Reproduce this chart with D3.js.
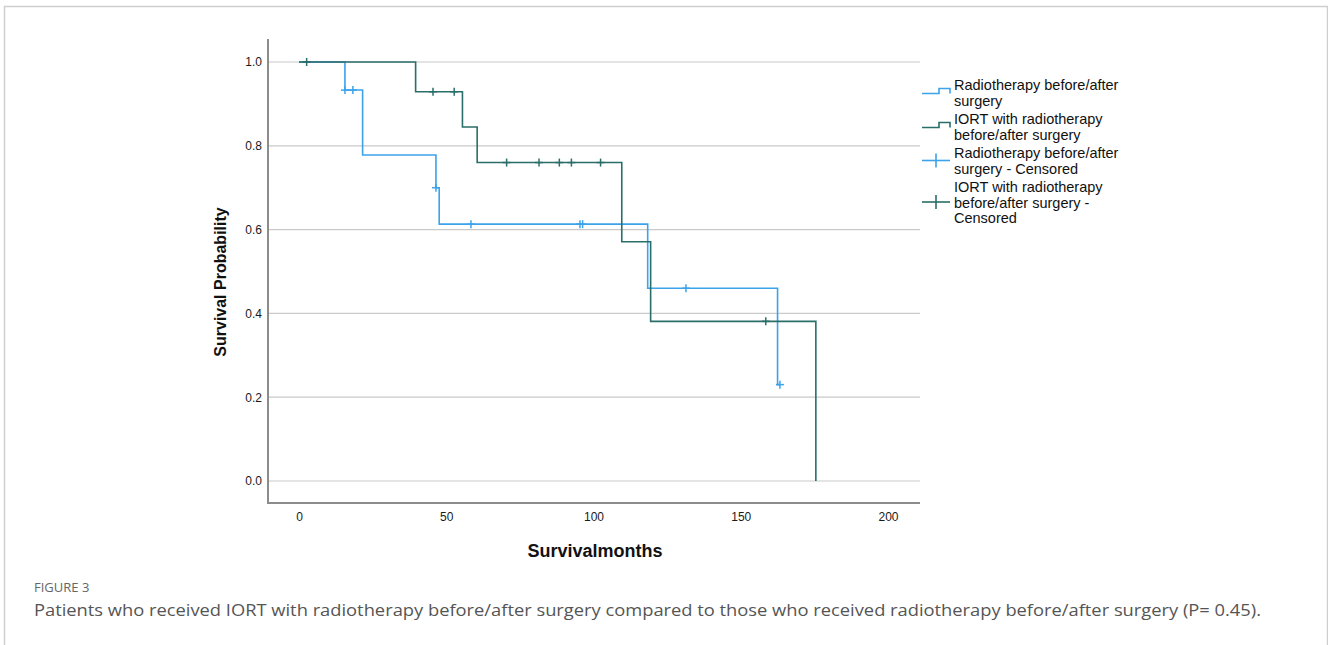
<!DOCTYPE html>
<html lang="en">
<head>
<meta charset="utf-8">
<title>Figure 3</title>
<script src="https://cdn.jsdelivr.net/npm/d3@7"></script>
<style>
  body { margin: 0; background: #fff; }
  svg text { font-family: "Liberation Sans", Arial, sans-serif; }
  svg text.caption { font-family: "Open Sans", sans-serif; }
</style>
</head>
<body>
<svg id="chart" width="1328" height="645"></svg>
<script>
// Kaplan-Meier steps
var rtTimes = [0, 15.6, 21.6, 46.5, 47.6, 118.4, 162.5, 163.3];
var rtSurv  = [1, 0.933, 0.778, 0.70, 0.613, 0.46, 0.23, 0.23];
var rtCensored = [15.6, 18.3, 46.5, 58.4, 95.4, 96.3, 131.4, 163.3];

var iortTimes = [0, 39.6, 55.5, 60.5, 109.6, 119.4, 175.5];
var iortSurv  = [1, 0.929, 0.845, 0.76, 0.571, 0.381, 0];
var iortCensored = [2.6, 45.5, 52.7, 70.5, 81.5, 88.4, 92.5, 102.4, 158.5];

var xTicks = [0, 50, 100, 150, 200];
var yTicks = [0, 0.2, 0.4, 0.6, 0.8, 1.0];

var legendItems = [
  { lines: ["Radiotherapy before/after", "surgery"], kind: "step", color: "#3ca3ea" },
  { lines: ["IORT with radiotherapy", "before/after surgery"], kind: "step", color: "#2a6e6a" },
  { lines: ["Radiotherapy before/after", "surgery - Censored"], kind: "cross", color: "#3ca3ea" },
  { lines: ["IORT with radiotherapy", "before/after surgery -", "Censored"], kind: "cross", color: "#2a6e6a" }
];

var svg = d3.select("#chart");

// outer frame
svg.append("rect")
  .attr("x", 4.5).attr("y", 6.5)
  .attr("width", 1323).attr("height", 660)
  .attr("fill", "none").attr("stroke", "#cfcfcf").attr("stroke-width", 1.5);

var x = d3.scaleLinear().domain([0, 200]).range([299, 888]);
var y = d3.scaleLinear().domain([0, 1]).range([481, 62]);

var plotL = 268, plotR = 920, plotT = 39, plotB = 503;

// grid lines
svg.append("g").selectAll("line")
  .data(yTicks).enter().append("line")
    .attr("x1", plotL).attr("x2", plotR)
    .attr("y1", function(d) { return y(d); })
    .attr("y2", function(d) { return y(d); })
    .attr("stroke", "#c9c9c9").attr("stroke-width", 1.2);

// axes
var yAxis = d3.axisLeft(y).tickValues(yTicks).tickFormat(d3.format(".1f")).tickSize(0).tickPadding(6);
var gy = svg.append("g").attr("transform", "translate(" + plotL + ",0)").call(yAxis);
gy.select(".domain").remove();
gy.selectAll("text").attr("font-size", 12).attr("fill", "#1a1a1a");

var xAxis = d3.axisBottom(x).tickValues(xTicks).tickSize(0).tickPadding(9);
var gx = svg.append("g").attr("transform", "translate(0," + plotB + ")").call(xAxis);
gx.select(".domain").remove();
gx.selectAll("text").attr("font-size", 12).attr("fill", "#1a1a1a");

svg.append("line").attr("x1", plotL).attr("x2", plotL).attr("y1", plotT).attr("y2", plotB + 1)
  .attr("stroke", "#8c8c8c").attr("stroke-width", 2);
svg.append("line").attr("x1", plotL).attr("x2", plotR).attr("y1", plotB).attr("y2", plotB)
  .attr("stroke", "#8c8c8c").attr("stroke-width", 2);

// axis titles
svg.append("text").attr("x", 595).attr("y", 557).attr("text-anchor", "middle")
  .attr("font-size", 18).attr("font-weight", "bold").attr("fill", "#111")
  .text("Survivalmonths");
svg.append("text").attr("transform", "translate(226,282) rotate(-90)").attr("text-anchor", "middle")
  .attr("font-size", 16).attr("font-weight", "bold").attr("fill", "#111")
  .text("Survival Probability");

// step curves
var line = d3.line()
  .x(function(d) { return x(d[0]); })
  .y(function(d) { return y(d[1]); })
  .curve(d3.curveStepAfter);

function drawSeries(times, surv, cens, color) {
  var pts = d3.zip(times, surv);
  svg.append("path").datum(pts)
    .attr("d", line).attr("fill", "none")
    .attr("stroke", color).attr("stroke-width", 1.6);

  var survAt = function(t) {
    var i = d3.bisectRight(times, t) - 1;
    return surv[Math.max(0, i)];
  };
  var g = svg.append("g");
  cens.forEach(function(t) {
    var cx = x(t), cy = y(survAt(t));
    g.append("line").attr("x1", cx - 4).attr("x2", cx + 4).attr("y1", cy).attr("y2", cy)
      .attr("stroke", color).attr("stroke-width", 1.5);
    g.append("line").attr("x1", cx).attr("x2", cx).attr("y1", cy - 4).attr("y2", cy + 4)
      .attr("stroke", color).attr("stroke-width", 1.5);
  });
}

drawSeries(rtTimes, rtSurv, rtCensored, "#3ca3ea");
drawSeries(iortTimes, iortSurv, iortCensored, "#2a6e6a");

// legend
var legY = [85, 119, 153, 187];
legendItems.forEach(function(item, i) {
  var g = svg.append("g");
  var ty = legY[i];
  item.lines.forEach(function(l, j) {
    g.append("text").attr("x", 954).attr("y", ty + j * 15.5 + 5)
      .attr("font-size", 14.5).attr("fill", "#111").text(l);
  });
  var sy = ty + (item.lines.length === 3 ? 15 : 7.5);
  if (item.kind === "step") {
    g.append("path")
      .attr("d", "M922," + (sy + 1) + "H939V" + (sy - 4) + "H950V" + (sy + 1))
      .attr("fill", "none").attr("stroke", item.color).attr("stroke-width", 1.6);
  } else {
    g.append("line").attr("x1", 922).attr("x2", 950).attr("y1", sy).attr("y2", sy)
      .attr("stroke", item.color).attr("stroke-width", 1.6);
    g.append("line").attr("x1", 936).attr("x2", 936).attr("y1", sy - 7).attr("y2", sy + 7)
      .attr("stroke", item.color).attr("stroke-width", 1.6);
  }
});

// caption
svg.append("text").attr("class", "caption").attr("x", 34).attr("y", 592)
  .attr("font-size", 13).attr("fill", "#666").text("FIGURE 3");
svg.append("text").attr("class", "caption").attr("x", 34).attr("y", 616)
  .attr("font-size", 16).attr("fill", "#555")
  .attr("textLength", 1227).attr("lengthAdjust", "spacingAndGlyphs")
  .text("Patients who received IORT with radiotherapy before/after surgery compared to those who received radiotherapy before/after surgery (P= 0.45).");
</script>
</body>
</html>
